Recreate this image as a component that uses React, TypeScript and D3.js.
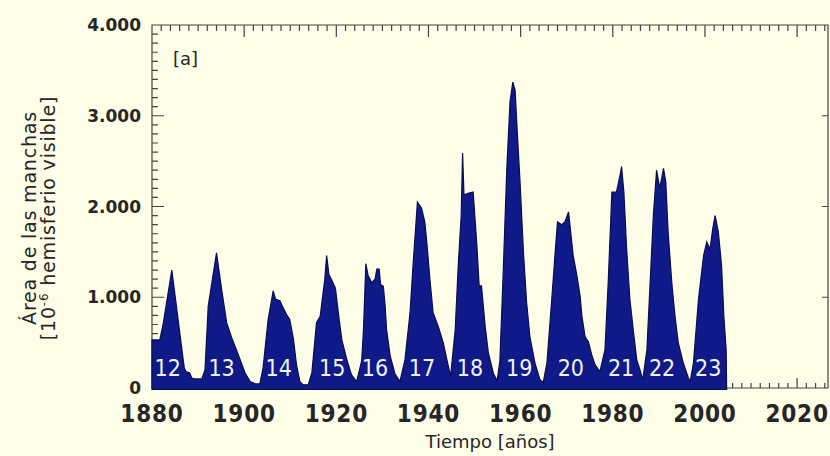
import * as d3 from "d3";
import { useEffect, useRef } from "react";

const W = 830;
const H = 456;

// sunspot area (year, area in 10^-6 of the visible hemisphere)
const years = [
  1880.0, 1881.7, 1882.4, 1884.3, 1887.0, 1887.4, 1888.2, 1888.6, 1889.3, 1890.8,
  1891.5, 1892.2, 1894.0, 1895.1, 1896.2, 1897.3, 1898.7, 1900.2, 1901.3, 1902.4, 1903.4,
  1904.1, 1905.2, 1906.3, 1906.8, 1907.8, 1908.3, 1909.2, 1909.9, 1910.7, 1911.4, 1912.1, 1912.8, 1913.9,
  1914.7, 1915.7, 1916.5, 1917.5, 1917.9, 1918.4, 1919.1, 1919.8, 1920.5, 1921.2, 1922.3, 1923.3, 1924.4,
  1925.5, 1925.9, 1926.4, 1926.9, 1927.7, 1928.4, 1928.8, 1929.3, 1929.6, 1930.2, 1930.6, 1930.9, 1931.7, 1932.7, 1933.8,
  1934.9, 1936.0, 1936.7, 1937.6, 1938.5, 1939.2, 1939.7, 1940.3, 1941.0, 1942.1, 1943.2, 1944.3, 1944.8,
  1945.8, 1946.5, 1947.1, 1947.4, 1947.7, 1948.6, 1949.7, 1950.5, 1951.0, 1951.5, 1952.3, 1953.0, 1954.1, 1954.9,
  1955.5, 1956.2, 1957.0, 1957.7, 1958.3, 1958.8, 1959.3, 1959.9, 1960.6, 1961.3, 1962.0, 1963.1, 1964.2, 1964.9,
  1965.7, 1966.7, 1967.5, 1968.0, 1968.9, 1969.6, 1970.4, 1970.9, 1971.4, 1972.2, 1972.9, 1973.3, 1974.0, 1974.7, 1975.4, 1976.1, 1977.2,
  1978.3, 1979.0, 1979.8, 1980.8, 1981.6, 1981.9, 1982.4, 1983.0, 1983.7, 1984.5, 1985.2, 1985.9, 1986.5,
  1987.4, 1988.1, 1988.8, 1989.5, 1990.2, 1991.0, 1991.5, 1992.0, 1992.8, 1993.5, 1994.2, 1995.3, 1996.4, 1996.8,
  1997.5, 1998.6, 1999.7, 2000.4, 2001.1, 2001.7, 2002.2, 2002.9, 2003.6, 2004.1, 2004.6, 2004.7,
];
const areas = [
  530, 530, 700, 1300, 220, 180, 165, 110, 100, 100,
  200, 900, 1490, 1090, 720, 555, 370, 165, 70, 45, 45,
  220, 755, 1070, 980, 960, 900, 810, 755, 535, 240, 70, 35, 35,
  170, 720, 790, 1200, 1460, 1250, 1180, 1100, 800, 530, 310, 145, 70,
  300, 645, 1370, 1240, 1160, 1200, 1310, 1310, 1140, 1120, 900, 645, 350, 160, 70,
  310, 830, 1390, 2050, 1980, 1830, 1570, 1200, 830, 680, 500, 240, 130,
  645, 1390, 1900, 2590, 2130, 2145, 2160, 1570, 1125, 1125, 680, 385, 160, 80,
  300, 1250, 2420, 3160, 3370, 3280, 2790, 2240, 1500, 940, 570, 275, 90, 60,
  275, 940, 1500, 1830, 1800, 1830, 1940, 1700, 1460, 1240, 1015, 790, 560, 510, 370, 260, 180,
  420, 1160, 2160, 2160, 2350, 2440, 2160, 1530, 980, 610, 310, 200, 90,
  420, 1160, 1900, 2400, 2200, 2420, 2270, 1720, 1160, 790, 500, 275, 110, 70,
  275, 980, 1460, 1610, 1530, 1760, 1900, 1720, 1350, 790, 420, 0,
];

const cycleNumbers = ["12", "13", "14", "15", "16", "17", "18", "19", "20", "21", "22", "23"];
const cycleLabelYears = [1883.4, 1895.1, 1907.5, 1919.1, 1928.4, 1938.6, 1949.0, 1959.7, 1970.9, 1981.8, 1990.7, 2000.7];

const yTicks = [0, 1000, 2000, 3000, 4000];
const xTicks = [1880, 1900, 1920, 1940, 1960, 1980, 2000, 2020];

const axisColor = "#444";
const textColor = "#262626";
const narrow = "'Liberation Sans Narrow', 'DejaVu Sans Condensed', sans-serif";
const sans = "'DejaVu Sans', sans-serif";

const App = () => {
  const svgRef = useRef<SVGSVGElement>(null);

  useEffect(() => {
    const svg = d3.select(svgRef.current);
    svg.selectAll("*").remove();

    const x = d3.scaleLinear().domain([1880, 2026.7]).range([152, 828]);
    const y = d3.scaleLinear().domain([0, 4000]).range([388, 25]);
    const [x0, x1] = x.range();
    const [yb, yt] = y.range();

    svg.append("rect").attr("width", W).attr("height", H).attr("fill", "#fdfde8");

    const minorX = d3.range(1880, 2027, 2);
    const minorY = d3.range(0, 4001, 100);
    const fmt = d3.formatLocale({ decimal: ",", thousands: ".", grouping: [3], currency: ["", ""] }).format(",");

    // all the axis ticks as one path
    const p = d3.path();
    const vTicks = (vals: number[], ya: number, len: number) =>
      vals.forEach((v) => {
        p.moveTo(x(v), ya);
        p.lineTo(x(v), ya + len);
      });
    const hTicks = (vals: number[], xa: number, len: number) =>
      vals.forEach((v) => {
        p.moveTo(xa, y(v));
        p.lineTo(xa + len, y(v));
      });
    vTicks(minorX, yt, 6); // top, pointing down
    vTicks(xTicks, yt, 12);
    vTicks(minorX, yb, -5); // bottom, pointing up
    vTicks(xTicks, yb, -10);
    hTicks(minorY, x0, 6); // left, pointing right
    hTicks(yTicks, x0, 12);
    hTicks(yTicks, x1, -6); // right, pointing left
    p.rect(x0, yt, x1 - x0, yb - yt);

    svg
      .append("path")
      .attr("d", p.toString())
      .attr("fill", "none")
      .attr("stroke", axisColor)
      .attr("stroke-width", 1.2);

    const data = years.map((yr, i) => ({ yr, v: areas[i] }));
    const area = d3
      .area<{ yr: number; v: number }>()
      .x((d) => x(d.yr))
      .y0(y(0) + 1.5)
      .y1((d) => y(d.v));

    svg
      .append("path")
      .datum(data)
      .attr("fill", "#0f1a88")
      .attr("stroke", "#0a0d4c")
      .attr("stroke-width", 1.2)
      .attr("d", area);

    // cycle numbers
    svg
      .append("g")
      .selectAll("text")
      .data(cycleNumbers)
      .join("text")
      .attr("x", (_, i) => x(cycleLabelYears[i]))
      .attr("y", 376)
      .attr("text-anchor", "middle")
      .attr("fill", "#f2f2f2")
      .attr("font-family", narrow)
      .attr("font-size", 23)
      .text((d) => d);

    // y tick labels
    svg
      .append("g")
      .selectAll("text")
      .data(yTicks)
      .join("text")
      .attr("x", 141)
      .attr("y", (d) => y(d))
      .attr("dy", "0.36em")
      .attr("text-anchor", "end")
      .attr("fill", textColor)
      .attr("font-family", sans)
      .attr("font-weight", "bold")
      .attr("font-size", 17)
      .text((d) => fmt(d));

    // x tick labels
    svg
      .append("g")
      .selectAll("text")
      .data(xTicks)
      .join("text")
      .attr("x", (d) => x(d))
      .attr("y", 422)
      .attr("text-anchor", "middle")
      .attr("fill", textColor)
      .attr("font-family", narrow)
      .attr("font-weight", "bold")
      .attr("font-size", 24)
      .attr("letter-spacing", 0.8)
      .text((d) => String(d));

    svg
      .append("text")
      .attr("x", 490)
      .attr("y", 448)
      .attr("text-anchor", "middle")
      .attr("fill", textColor)
      .attr("font-family", sans)
      .attr("font-size", 18)
      .text("Tiempo [años]");

    svg
      .append("text")
      .attr("x", 173)
      .attr("y", 65)
      .attr("fill", textColor)
      .attr("font-family", sans)
      .attr("font-size", 18)
      .text("[a]");

    const yTitle = svg
      .append("text")
      .attr("transform", "translate(36,218) rotate(-90)")
      .attr("text-anchor", "middle")
      .attr("fill", textColor)
      .attr("font-family", sans)
      .attr("font-size", 19)
      .attr("letter-spacing", 0.8);
    yTitle.append("tspan").attr("x", 0).attr("y", 0).text("Área de las manchas");
    const l2 = yTitle.append("tspan").attr("x", 0).attr("y", 19);
    l2.append("tspan").text("[10");
    l2.append("tspan").attr("font-size", 12).attr("dy", -7).text("-6");
    l2.append("tspan").attr("dy", 7).text(" hemisferio visible]");
  }, []);

  return <svg ref={svgRef} width={W} height={H} style={{ position: "absolute", left: 0, top: 0 }} />;
};

export default App;
